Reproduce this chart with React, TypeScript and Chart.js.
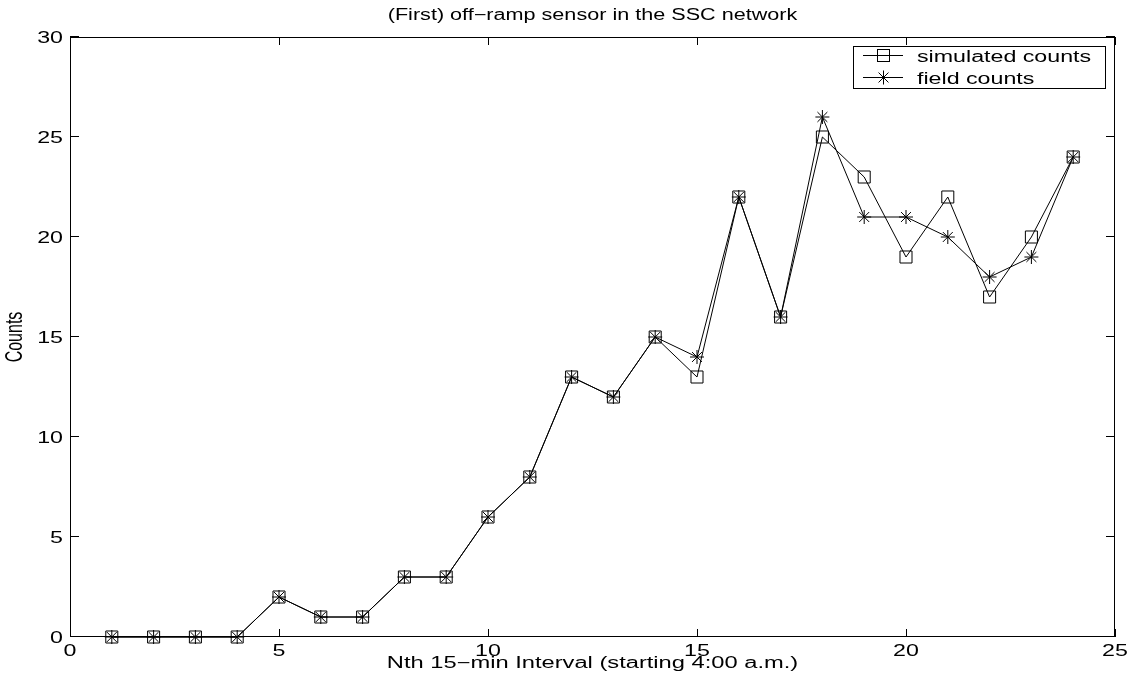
import React, { useEffect, useRef } from "react";
import { Chart, registerables } from "chart.js";

Chart.register(...registerables);

// Interval index (x) and counts for each series
const intervals = [1, 2, 3, 4, 5, 6, 7, 8, 9, 10, 11, 12, 13, 14, 15, 16, 17, 18, 19, 20, 21, 22, 23, 24];
const simulatedCounts = [0, 0, 0, 0, 2, 1, 1, 3, 3, 6, 8, 13, 12, 15, 13, 22, 16, 25, 23, 19, 22, 17, 20, 24];
const fieldCounts = [0, 0, 0, 0, 2, 1, 1, 3, 3, 6, 8, 13, 12, 15, 14, 22, 16, 26, 21, 21, 20, 18, 19, 24];

const xTickValues = [0, 5, 10, 15, 20, 25];
const yTickValues = [0, 5, 10, 15, 20, 25, 30];

const titleText = "(First) off\u2212ramp sensor in the SSC network";
const xAxisLabel = "Nth 15\u2212min Interval (starting 4:00 a.m.)";
const yAxisLabel = "Counts";
const legendLabels = ["simulated counts", "field counts"];

const FONT = "16px 'Liberation Sans', Arial, Helvetica, sans-serif";
const STRETCH = 1.45; // horizontal widening of text glyphs
const TITLE_STRETCH = 1.35;
const XLABEL_STRETCH = 1.48;

function drawText(
  ctx: CanvasRenderingContext2D,
  text: string,
  x: number,
  y: number,
  align: CanvasTextAlign,
  rotate = false,
  stretch = STRETCH
) {
  ctx.save();
  ctx.translate(x, y);
  if (rotate) {
    ctx.rotate(-Math.PI / 2);
    ctx.scale(1, stretch);
  } else {
    ctx.scale(stretch, 1);
  }
  ctx.font = FONT;
  ctx.fillStyle = "#000";
  ctx.textAlign = align;
  ctx.textBaseline = "alphabetic";
  ctx.fillText(text, 0, 0);
  ctx.restore();
}

function drawSquare(ctx: CanvasRenderingContext2D, x: number, y: number, half: number) {
  ctx.strokeRect(x - half, y - half, half * 2, half * 2);
}

function drawStar(ctx: CanvasRenderingContext2D, x: number, y: number, r: number) {
  const d = r * Math.SQRT1_2;
  ctx.beginPath();
  ctx.moveTo(x - r, y);
  ctx.lineTo(x + r, y);
  ctx.moveTo(x, y - r);
  ctx.lineTo(x, y + r);
  ctx.moveTo(x - d, y - d);
  ctx.lineTo(x + d, y + d);
  ctx.moveTo(x - d, y + d);
  ctx.lineTo(x + d, y - d);
  ctx.stroke();
}

// Boxed axes with inward ticks, labels, title and an inset legend
const framePlugin = {
  id: "boxedAxes",
  beforeDatasetsDraw(chart: any) {
    const { ctx, chartArea } = chart;
    const { left, right, top, bottom } = chartArea;
    const xs = chart.scales.x;
    const ys = chart.scales.y;
    ctx.save();
    ctx.strokeStyle = "#000";
    ctx.lineWidth = 1;
    ctx.strokeRect(left + 0.5, top + 0.5, right - left - 1, bottom - top - 1);
    ctx.beginPath();
    for (const v of xTickValues) {
      const px = Math.round(xs.getPixelForValue(v)) + 0.5;
      ctx.moveTo(px, bottom);
      ctx.lineTo(px, bottom - 8);
      ctx.moveTo(px, top);
      ctx.lineTo(px, top + 8);
    }
    for (const v of yTickValues) {
      const py = Math.round(ys.getPixelForValue(v)) - 0.5;
      ctx.moveTo(left, py);
      ctx.lineTo(left + 9, py);
      ctx.moveTo(right, py);
      ctx.lineTo(right - 9, py);
    }
    ctx.stroke();
    ctx.restore();
  },
  afterDraw(chart: any) {
    const { ctx, chartArea } = chart;
    const { left, right, top, bottom } = chartArea;
    const xs = chart.scales.x;
    const ys = chart.scales.y;

    for (const v of xTickValues) {
      drawText(ctx, String(v), xs.getPixelForValue(v), bottom + 19, "center");
    }
    for (const v of yTickValues) {
      drawText(ctx, String(v), left - 7, ys.getPixelForValue(v) + 6, "right");
    }
    const cx = (left + right) / 2;
    drawText(ctx, titleText, cx, 20, "center", false, TITLE_STRETCH);
    drawText(ctx, xAxisLabel, cx, bottom + 31, "center", false, XLABEL_STRETCH);
    drawText(ctx, yAxisLabel, 22, (top + bottom) / 2, "center", true);

    // legend
    const bx = 853;
    const by = 46;
    const bw = 252;
    const bh = 42;
    ctx.save();
    ctx.fillStyle = "#fff";
    ctx.fillRect(bx, by, bw, bh);
    ctx.strokeStyle = "#000";
    ctx.lineWidth = 1;
    ctx.strokeRect(bx + 0.5, by + 0.5, bw, bh);
    const rows = [55.5, 77.5];
    rows.forEach((ry, i) => {
      ctx.beginPath();
      ctx.moveTo(863, ry);
      ctx.lineTo(903, ry);
      ctx.stroke();
      if (i === 0) drawSquare(ctx, 883.5, ry, 6);
      else drawStar(ctx, 883.5, ry, 7);
      drawText(ctx, legendLabels[i], 917, ry + 6, "left");
    });
    ctx.restore();
  },
};

export default function App() {
  const canvasRef = useRef<HTMLCanvasElement | null>(null);

  useEffect(() => {
    const canvas = canvasRef.current;
    if (!canvas) return;
    const chart = new Chart(canvas, {
      type: "line",
      data: {
        datasets: [
          {
            label: legendLabels[0],
            data: intervals.map((x, i) => ({ x, y: simulatedCounts[i] })),
            borderColor: "#000",
            borderWidth: 1,
            pointStyle: "rect",
            pointRadius: 8.5,
            pointBorderWidth: 1,
            pointBorderColor: "#000",
            pointBackgroundColor: "rgba(0,0,0,0)",
            tension: 0,
            clip: false,
          },
          {
            label: legendLabels[1],
            data: intervals.map((x, i) => ({ x, y: fieldCounts[i] })),
            borderColor: "#000",
            borderWidth: 1,
            pointStyle: "star",
            pointRadius: 7,
            pointBorderWidth: 1,
            pointBorderColor: "#000",
            pointBackgroundColor: "rgba(0,0,0,0)",
            tension: 0,
            clip: false,
          },
        ],
      },
      options: {
        animation: false,
        responsive: false,
        devicePixelRatio: 1,
        events: [],
        layout: { padding: { left: 70, top: 37, right: 21, bottom: 50 } },
        scales: {
          x: { type: "linear", min: 0, max: 25, display: false },
          y: { type: "linear", min: 0, max: 30, display: false },
        },
        plugins: {
          legend: { display: false },
          title: { display: false },
          tooltip: { enabled: false },
        },
      },
      plugins: [framePlugin],
    });
    return () => chart.destroy();
  }, []);

  return (
    <div style={{ position: "absolute", left: 0, top: 0, width: 1136, height: 687, background: "#fff" }}>
      <canvas ref={canvasRef} width={1136} height={687} style={{ display: "block" }} />
    </div>
  );
}
